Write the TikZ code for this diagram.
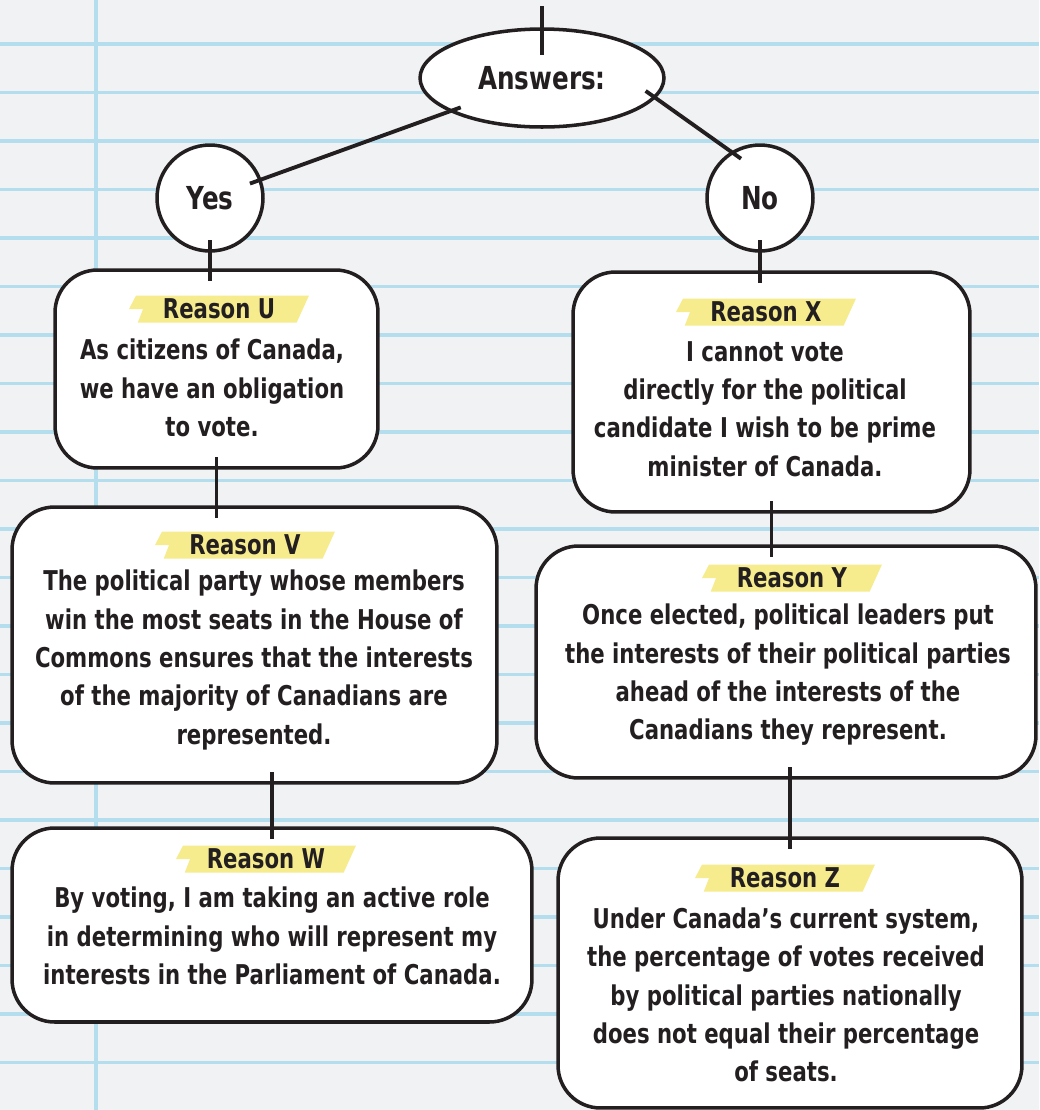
\documentclass[tikz,border=0pt]{standalone}
\usepackage{fontspec}
\newfontfamily\handfont{DejaVu Sans}[FakeStretch=0.78]
\usetikzlibrary{shapes.geometric, calc}

\definecolor{paper}{HTML}{F1F2F3}
\definecolor{rule}{HTML}{B4DEEE}
\definecolor{marker}{HTML}{F6EC8E}
\definecolor{ink}{HTML}{231F20}

\tikzset{
  card/.style={draw=ink, line width=2pt, fill=white, rounded corners=0.85cm},
  bubble/.style={draw=ink, line width=2pt, fill=white, circle, minimum size=2.12cm,
    text=ink, font=\handfont\bfseries\fontsize{18}{20}\selectfont},
  reason/.style={minimum width=3.6cm, minimum height=0.54cm, inner sep=0pt, text=ink,
    font=\handfont\bfseries\fontsize{15.5}{18}\selectfont,
    path picture={\fill[marker] ([xshift=4pt]path picture bounding box.north west)
      -- (path picture bounding box.north east)
      -- ([xshift=-7pt]path picture bounding box.south east)
      -- ([xshift=5pt]path picture bounding box.south west)
      -- ([xshift=8pt]path picture bounding box.west)
      -- (path picture bounding box.west) -- cycle;}},
  body/.style={align=center, text=ink, inner sep=0pt,
    font=\handfont\bfseries\fontsize{15.5}{21.8}\selectfont},
  link/.style={draw=ink, line width=2.2pt, shorten <=-7pt, shorten >=-7pt},
}

\begin{document}
\begin{tikzpicture}[x=0.02cm, y=-0.02cm]
\useasboundingbox (0,0) rectangle (1039,1110);
% notebook paper
\fill[paper] (0,0) rectangle (1039,1110);
\foreach \k in {0,...,21}
  \draw[rule, line width=1.8pt] (0,44+48.5*\k) -- (1039,44+48.5*\k);
\draw[rule, line width=1.8pt] (96,0) -- (96,1110);

\coordinate (top) at (542,6);
\node[draw=ink, line width=2pt, fill=white, ellipse, minimum width=4.88cm,
  minimum height=1.96cm, text=ink, font=\handfont\bfseries\fontsize{18}{20}\selectfont]
  (ans) at (542,78) {Answers:};
\node[bubble] (yes) at (210,198) {Yes};
\node[bubble] (no) at (760,198) {No};

% boxes
\node[card, minimum width=6.46cm, minimum height=3.96cm] (boxu) at (216.5,369) {};
\node[card, minimum width=9.7cm, minimum height=5.52cm] (boxv) at (254.5,645) {};
\node[card, minimum width=10.4cm, minimum height=3.88cm] (boxw) at (272,925) {};
\node[card, minimum width=7.94cm, minimum height=4.8cm] (boxx) at (771.5,392) {};
\node[card, minimum width=10.0cm, minimum height=4.64cm] (boxy) at (786,662) {};
\node[card, minimum width=9.28cm, minimum height=5.4cm] (boxz) at (790,973) {};

% reason labels
\node[reason] (ru) at (219,309) {Reason U};
\node[reason] (rv) at (245,545) {Reason V};
\node[reason] (rw) at (266,859) {Reason W};
\node[reason] (rx) at (766,312) {Reason X};
\node[reason] (ry) at (792,578) {Reason Y};
\node[reason] (rz) at (785,878) {Reason Z};

% reason texts
\node[body] (tu) at (212,388) {As citizens of Canada,\\we have an obligation\\to vote.};
\node[body] (tv) at (254,660) {The political party whose members\\win the most seats in the House of\\Commons ensures that the interests\\of the majority of Canadians are\\represented.};
\node[body] (tw) at (272,936) {By voting, I am taking an active role\\in determining who will represent my\\interests in the Parliament of Canada.};
\node[body] (tx) at (765,409) {I cannot vote\\directly for the political\\candidate I wish to be prime\\minister of Canada.};
\node[body] (ty) at (788,675) {Once elected, political leaders put\\the interests of their political parties\\ahead of the interests of the\\Canadians they represent.};
\node[body] (tz) at (786,995) {Under Canada’s current system,\\the percentage of votes received\\by political parties nationally\\does not equal their percentage\\of seats.};

% connectors
\draw[link, shorten <=0pt, shorten >=-16pt] (top) -- (ans.north);
\path[link]
(ans) edge (yes)
(ans.-10) edge (no.122)
(yes.south) edge (yes.south |- boxu.north)
(boxu.south) edge (boxu.south |- boxv.north)
(boxw.north |- boxv.south) edge (boxw.north)
(no.south) edge (no.south |- boxx.north)
(boxx.south) edge (boxx.south |- boxy.north)
(boxz.north |- boxy.south) edge (boxz.north)
;
\end{tikzpicture}
\end{document}
